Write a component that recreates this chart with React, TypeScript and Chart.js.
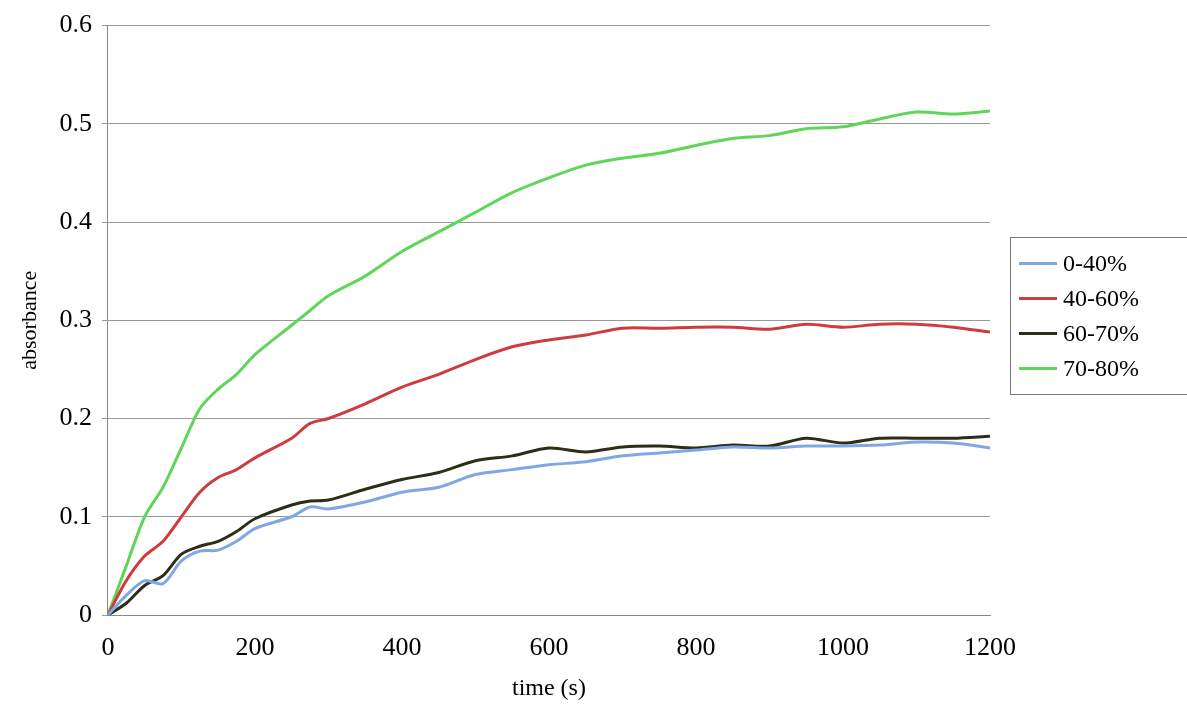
import { Chart, registerables } from "chart.js";
import { useEffect, useRef } from "react";

Chart.register(...registerables);

const times = [0, 25, 50, 75, 100, 125, 150, 175, 200, 250, 275, 300, 350, 400, 450, 500, 550, 600, 650, 700, 750, 800, 850, 900, 950, 1000, 1050, 1100, 1150, 1200];

const band0to40 = [0, 0.02, 0.035, 0.032, 0.055, 0.065, 0.066, 0.075, 0.088, 0.1, 0.11, 0.108, 0.115, 0.125, 0.13, 0.143, 0.148, 0.153, 0.156, 0.162, 0.165, 0.168, 0.171, 0.17, 0.172, 0.172, 0.173, 0.176, 0.175, 0.17];
const band40to60 = [0, 0.035, 0.06, 0.075, 0.1, 0.125, 0.14, 0.148, 0.16, 0.18, 0.195, 0.2, 0.215, 0.232, 0.245, 0.26, 0.273, 0.28, 0.285, 0.292, 0.292, 0.293, 0.293, 0.291, 0.296, 0.293, 0.296, 0.296, 0.293, 0.288];
const band60to70 = [0, 0.012, 0.03, 0.04, 0.062, 0.07, 0.075, 0.085, 0.098, 0.112, 0.116, 0.117, 0.128, 0.138, 0.145, 0.157, 0.162, 0.17, 0.166, 0.171, 0.172, 0.17, 0.173, 0.172, 0.18, 0.175, 0.18, 0.18, 0.18, 0.182];
const band70to80 = [0, 0.05, 0.1, 0.13, 0.17, 0.21, 0.23, 0.245, 0.265, 0.295, 0.31, 0.325, 0.345, 0.37, 0.39, 0.41, 0.43, 0.445, 0.458, 0.465, 0.47, 0.478, 0.485, 0.488, 0.495, 0.497, 0.505, 0.512, 0.51, 0.513];

const seriesNames = ["0-40%", "40-60%", "60-70%", "70-80%"];
const seriesColors = ["#7fa7e6", "#cf3b3f", "#2b2f17", "#5fd65a"];
const seriesValues = [band0to40, band40to60, band60to70, band70to80];

const font = "'Liberation Serif', 'Times New Roman', serif";

export default function App() {
  const canvasRef = useRef<HTMLCanvasElement>(null);

  useEffect(() => {
    if (!canvasRef.current) return;
    const chart = new Chart(canvasRef.current, {
      type: "line",
      data: {
        datasets: seriesValues.map((vals, i) => ({
          label: seriesNames[i],
          data: vals.map((y, j) => ({ x: times[j], y })),
          borderColor: seriesColors[i],
          borderWidth: 3,
          pointRadius: 0,
          tension: 0.3,
          fill: false,
        })),
      },
      options: {
        animation: false,
        responsive: true,
        maintainAspectRatio: false,
        layout: { padding: { top: 24, right: 197, left: 13, bottom: 4 } },
        plugins: { legend: { display: false }, tooltip: { enabled: false } },
        scales: {
          x: {
            type: "linear",
            min: 0,
            max: 1200,
            border: { color: "#888", width: 1 },
            grid: { display: false, drawTicks: true },
            ticks: {
              stepSize: 200,
              color: "#000",
              font: { family: font, size: 26 },
              padding: 10,
              callback: (v) => `${v}`,
            },
            title: { display: true, text: "time (s)", color: "#000", font: { family: font, size: 24 }, padding: { top: 0 } },
          },
          y: {
            min: 0,
            max: 0.6,
            border: { color: "#888", width: 1 },
            grid: { color: "#999", tickLength: 6 },
            ticks: { stepSize: 0.1, color: "#000", font: { family: font, size: 26 }, padding: 10 },
            title: { display: true, text: "absorbance", color: "#000", font: { family: font, size: 22 }, padding: { bottom: 6 } },
          },
        },
      },
    });
    return () => chart.destroy();
  }, []);

  return (
    <div style={{ position: "fixed", left: 0, top: 0, width: 1187, height: 711, background: "#fff" }}>
      <canvas ref={canvasRef} />
      <div
        style={{
          position: "absolute",
          left: 1010,
          top: 237,
          width: 190,
          height: 158,
          border: "1px solid #777",
          boxSizing: "border-box",
          fontFamily: font,
          fontSize: 24,
          padding: "8px 0 0 8px",
        }}
      >
        {seriesNames.map((n, i) => (
          <div key={n} style={{ display: "flex", alignItems: "center", height: 35 }}>
            <span style={{ display: "inline-block", width: 38, height: 3, background: seriesColors[i], marginRight: 6 }} />
            {n}
          </div>
        ))}
      </div>
    </div>
  );
}
